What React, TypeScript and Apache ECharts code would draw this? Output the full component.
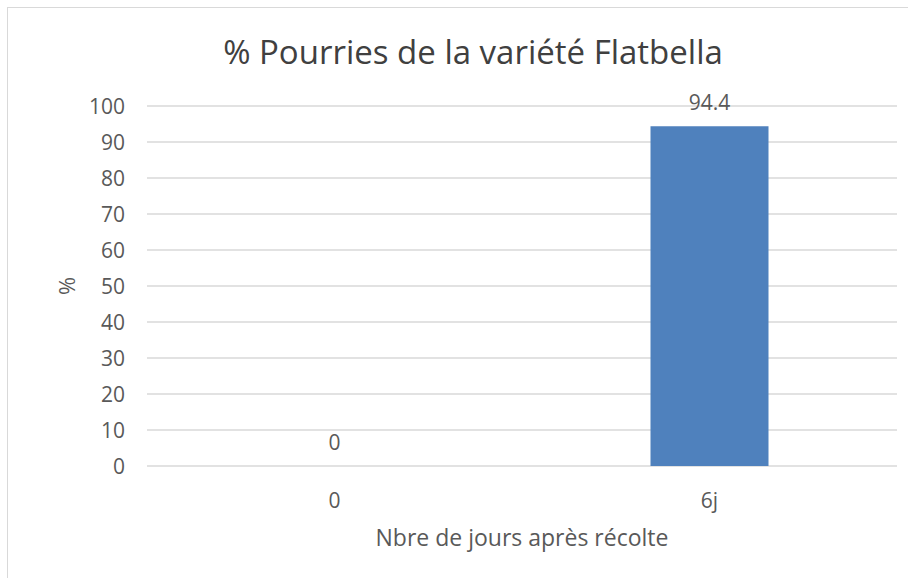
import React, { useEffect, useRef } from "react";
import * as echarts from "echarts";

const categories: string[] = ["0", "6j"];
const values: number[] = [0, 94.4];
const yTicks = { min: 0, max: 100, interval: 10 };

const FONT = "'Open Sans', 'Liberation Sans', sans-serif";
const TXT = "#595959";

export default function App() {
  const ref = useRef<HTMLDivElement>(null);
  useEffect(() => {
    document.body.style.margin = "0";
    if (!ref.current) return;
    const chart = echarts.init(ref.current, null, { renderer: "svg" });
    chart.setOption({
      animation: false,
      title: {
        text: "% Pourries de la variété Flatbella",
        left: 468,
        textAlign: "center",
        top: 30,
        textStyle: { fontFamily: FONT, fontSize: 33, fontWeight: "normal", color: "#404040" },
      },
      grid: { left: 147, right: 11, top: 106, bottom: 112 },
      xAxis: {
        type: "category",
        data: categories,
        axisLine: { show: false },
        axisTick: { show: false },
        axisLabel: { margin: 23, fontFamily: FONT, fontSize: 21, color: TXT },
        name: "Nbre de jours après récolte",
        nameLocation: "middle",
        nameGap: 59,
        nameTextStyle: { fontFamily: FONT, fontSize: 23, color: TXT },
      },
      yAxis: {
        type: "value",
        min: yTicks.min,
        max: yTicks.max,
        interval: yTicks.interval,
        axisLine: { show: false },
        axisTick: { show: false },
        splitLine: { lineStyle: { color: "#D9D9D9", width: 1.5 } },
        axisLabel: { margin: 22, fontFamily: FONT, fontSize: 21, color: TXT },
        name: "%",
        nameLocation: "middle",
        nameGap: 70,
        nameRotate: 90,
        nameTextStyle: { fontFamily: FONT, fontSize: 22, color: TXT },
      },
      series: [
        {
          type: "bar",
          data: values,
          barWidth: 118,
          itemStyle: { color: "#4F81BD" },
          label: {
            show: true,
            position: "top",
            distance: 14,
            fontFamily: FONT,
            fontSize: 21,
            color: TXT,
          },
        },
      ],
    });
    return () => chart.dispose();
  }, []);
  return (
    <div style={{ position: "relative", width: 908, height: 578, overflow: "hidden", background: "#fff" }}>
      <div
        style={{
          position: "absolute",
          left: 7,
          top: 7,
          width: 920,
          height: 600,
          border: "1.5px solid #D9D9D9",
          boxSizing: "border-box",
        }}
      />
      <div ref={ref} style={{ position: "absolute", left: 0, top: 0, width: 908, height: 578 }} />
    </div>
  );
}
